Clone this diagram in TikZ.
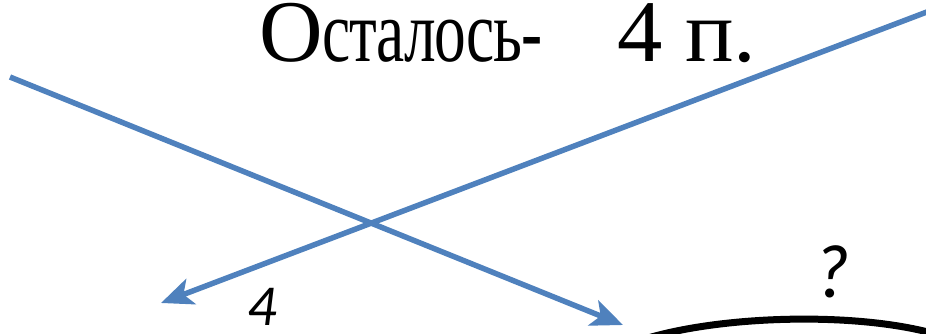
\documentclass[tikz,border=0pt]{standalone}
\usepackage{fontspec}
\setmainfont{Liberation Serif}
\newfontfamily\tightserif[LetterSpace=-2]{Liberation Serif}
\newfontfamily\calib{Carlito}
\usetikzlibrary{arrows.meta}
\definecolor{lineblue}{HTML}{4F81BD}
\tikzset{
  bluearrow/.style={draw=lineblue, line width=5.5pt,
    -{Stealth[length=32pt,width=27pt,inset=8pt]}},
  arcline/.style={draw=black, line width=7pt},
  lbl/.style={font=\calib\itshape\fontsize{58}{58}\selectfont, inner sep=0pt, anchor=base west}
}
\begin{document}
\begin{tikzpicture}[x=1pt,y=-1pt]
\useasboundingbox (0,0) rectangle (926,334);
\clip (0,0) rectangle (926,334);
\node[anchor=base west, inner sep=0pt, font=\fontsize{88}{88}\selectfont] (title) at (259,62)
  {О\scalebox{0.72}[1]{\tightserif сталось-}\hspace*{75pt}\scalebox{1.03}[1]{4 п.}};
\coordinate (s1) at (10,77);
\coordinate (e1) at (623,325);
\coordinate (s2) at (940,7);
\coordinate (e2) at (161,303);
\draw[bluearrow] (s1) -- (e1);
\draw[bluearrow] (s2) -- (e2);
\node[lbl] (four) at (247,325) {4};
\node[lbl, font=\calib\itshape\fontsize{76}{76}\selectfont] (q) at (814,297) {?};
\coordinate (a0) at (648,338);
\coordinate (a3) at (945,337);
\draw[arcline] (a0) .. controls (730,314) and (870,312) .. (a3);
\end{tikzpicture}
\end{document}
